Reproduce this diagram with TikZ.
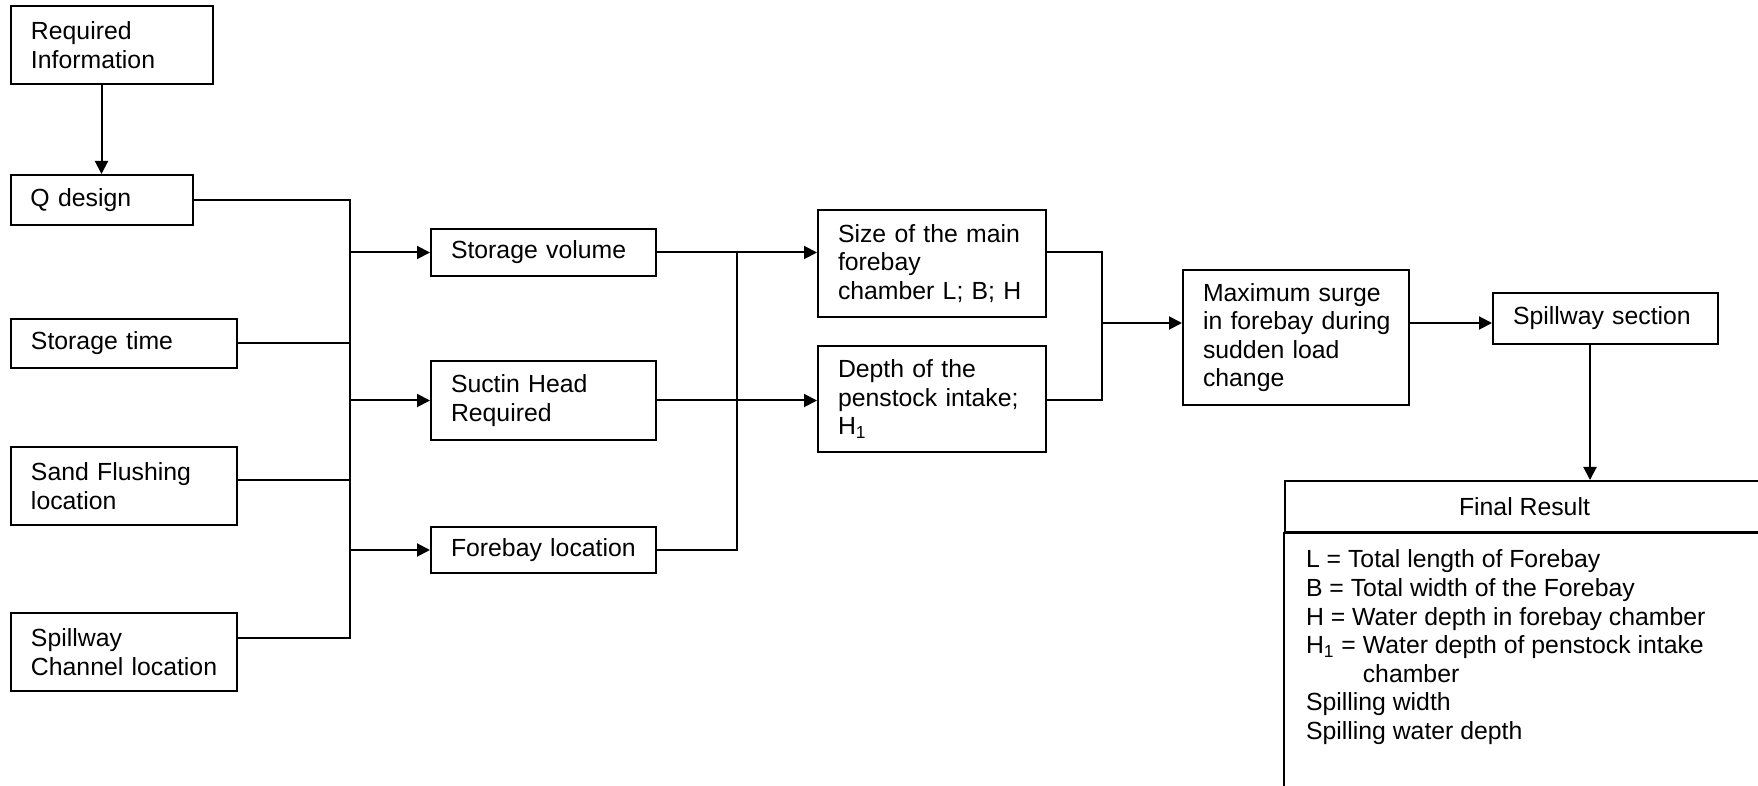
\documentclass[tikz,border=0pt]{standalone}
\usepackage{fontspec}
\setmainfont{Liberation Sans}
\usepackage{tikz}
\usetikzlibrary{arrows.meta, calc}

\hyphenpenalty=10000
\exhyphenpenalty=10000
\newcommand{\boxfont}{\fontsize{12.4}{14.3}\selectfont}
\tikzset{
  box/.style 2 args={draw, text width=#1, minimum height=#2, inner xsep=10pt, inner ysep=0pt, align=left},
  arr/.style={-{Triangle[length=6.5pt, width=6.5pt]}}
}

\begin{document}
\begin{tikzpicture}[x=0.5pt, y=-0.5pt, line width=1pt, font=\boxfont]
        \useasboundingbox (0,0) rectangle (1758,786);

        % Input boxes
        \node[box={81pt}{39pt}] (req) at (112,45) {Required\\Information};
        \node[box={71pt}{25pt}] (qd) at (101.5,200) {Q design};
        \node[box={93pt}{24.5pt}] (st) at (124,343.5) {Storage time};
        \node[box={93pt}{39pt}] (sf) at (124,486) {Sand Flushing\\location};
        \node[box={93pt}{39pt}] (sc) at (124,652) {Spillway\\\mbox{Channel location}};

        % Second column
        \node[box={92.5pt}{23.5pt}] (sv) at (543.5,252.5) {Storage volume};
        \node[box={92.5pt}{39.5pt}] (sh) at (543.5,400.5) {Suctin Head\\Required};
        \node[box={92.5pt}{23pt}] (fl) at (543.5,550) {Forebay location};

        % Third column
        \node[box={94pt}{53.5pt}] (sz) at (932,263.5) {Size of the main\\forebay\\chamber L; B; H};
        \node[box={94pt}{53pt}] (dp) at (932,399) {Depth of the\\\mbox{penstock intake;}\\H\textsubscript{1}};

        % Surge and spillway
        \node[box={93pt}{67.5pt}] (mx) at (1296,337.5) {Maximum surge\\\mbox{in forebay during}\\sudden load\\change};
        \node[box={92.5pt}{25.5pt}] (ss) at (1605.5,318.5) {Spillway section};

        % Final result
        \node[draw, minimum width=239.5pt, minimum height=25.5pt, inner sep=0pt] (fr) at (1524.5,506.5) {Final Result};
        \coordinate (frbot) at (1764,800);
        \draw (fr.south west) rectangle (frbot);
        \node[anchor=north west, align=left, inner sep=0pt] (frlist) at (1305,549) {L = Total length of Forebay\\
          B = Total width of the Forebay\\
          H = Water depth in forebay chamber\\
          H\textsubscript{1} = Water depth of penstock intake\\
          \phantom{H\textsubscript{1} = }chamber\\
          Spilling width\\
          Spilling water depth};

        % Bus lines
        \coordinate (b1) at (350,0);
        \coordinate (b2) at (737,0);
        \coordinate (b3) at (1102,0);
        \coordinate (sfout) at ($(sf.east)+(0,-6)$);
        \coordinate (scout) at ($(sc.east)+(0,-14)$);
        \coordinate (j) at (1102,323);
        \coordinate (ssout) at ($(ss.south)+(-15.5,0)$);

        % Connectors
        \draw[arr] (req.south -| qd.north) -- (qd.north);
        \draw (qd.east) -| (b1 |- scout) -- (scout);
        \draw (st.east) -- (st.east -| b1);
        \draw (sfout) -- (sfout -| b1);
        \draw[arr] (b1 |- sv.west) -- (sv.west);
        \draw[arr] (b1 |- sh.west) -- (sh.west);
        \draw[arr] (b1 |- fl.west) -- (fl.west);

        \draw[arr] (sv.east) -- (sv.east -| sz.west);
        \draw[arr] (sh.east) -- (sh.east -| dp.west);
        \draw (fl.east) -| (b2 |- sv.east);

        \draw (sv.east -| sz.east) -| (b3 |- sh.east) -- (sh.east -| dp.east);
        \draw[arr] (j) -- (j -| mx.west);
        \draw[arr] (mx.east |- j) -- (j -| ss.west);
        \draw[arr] (ssout) -- (ssout |- fr.north);
\end{tikzpicture}
\end{document}
